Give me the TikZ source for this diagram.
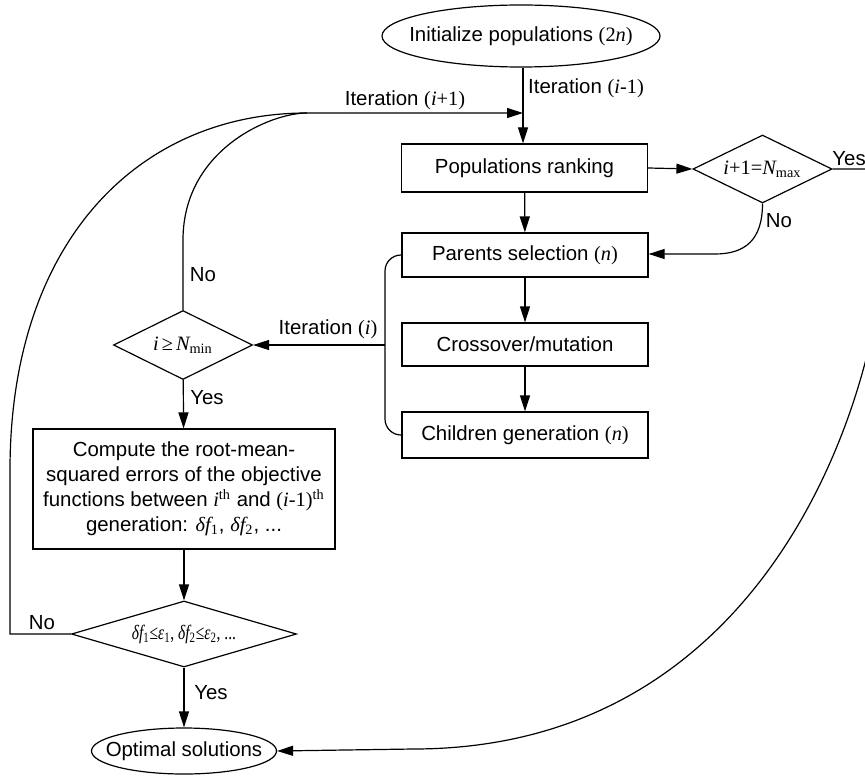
\documentclass[tikz,border=0pt]{standalone}
\usepackage{graphicx}
\usepackage{fontspec}
\setmainfont{Liberation Sans}
\newfontfamily\tms{Liberation Serif}
\usetikzlibrary{shapes.geometric,arrows.meta}
\newcommand\mvar[1]{{\tms\itshape #1}}
\newcommand\mrom[1]{{\tms #1}}
\newcommand\msub[1]{\textsubscript{\tms #1}}
\newcommand\msup[1]{\textsuperscript{\tms #1}}
\newcommand\zw[1]{\makebox[0pt]{#1}}
\begin{document}
\begin{tikzpicture}[x=0.5pt,y=-0.5pt,
  every node/.style={font=\fontsize{10.2}{12.5}\selectfont},
  line/.style={line width=0.6pt},
  arr/.style={line width=0.6pt,-{Triangle[length=8pt,width=5pt]}},
  procbox/.style={draw,line width=0.6pt,rectangle,minimum width=123pt,inner sep=0pt},
  decide/.style={draw,line width=0.6pt,diamond,inner sep=0pt},
  term/.style={draw,line width=0.6pt,ellipse,inner sep=0pt},
  lbl/.style={inner sep=0pt}]
\useasboundingbox (0,0) rectangle (865,775);

\node[term,minimum width=139pt,minimum height=31pt] (init) at (521,36) {\zw{Initialize populations \mrom{(2}\mvar{n}\mrom{)}}};
\node[procbox,minimum height=24pt] (rank) at (524.5,168) {Populations ranking};
\node[decide,minimum width=69.5pt,minimum height=34pt] (dmax) at (762.5,169) {\zw{\mvar{i}\mrom{+1=}\mvar{N}\msub{max}}};
\node[procbox,minimum height=22pt] (par) at (525,255) {Parents selection \mrom{(}\mvar{n}\mrom{)}};
\node[procbox,minimum height=21.5pt] (cross) at (525,344.5) {Crossover/mutation};
\node[procbox,minimum height=23pt] (child) at (525,435) {Children generation \mrom{(}\mvar{n}\mrom{)}};
\node[decide,minimum width=69.5pt,minimum height=34.5pt] (dmin) at (183,345) {\zw{\mvar{i}\kern1.5pt\mrom{≥}\kern1.5pt\mvar{N}\msub{min}}};
\node[procbox,minimum width=151pt,minimum height=60pt,align=center] (rmse) at (184,489) {Compute the root-mean-\\squared errors of the objective\\functions between \mvar{i}\msup{th} and \mrom{(}\mvar{i}\mrom{-1)}\msup{th}\\generation: \mvar{δf}\msub{1}, \mvar{δf}\msub{2}, ...};
\node[decide,minimum width=112.5pt,minimum height=33pt] (dconv) at (184,634) {\zw{\scalebox{0.76}[1]{\mvar{δf}\msub{1}\mrom{≤}\mvar{ε}\msub{1}\mrom{, }\mvar{δf}\msub{2}\mrom{≤}\mvar{ε}\msub{2}\mrom{, ...}}}};
\node[term,minimum width=92.5pt,minimum height=23pt] (opt) at (184,751) {\zw{Optimal solutions}};

\coordinate (j1) at (523,113);
\coordinate (jl) at (307,113);
\coordinate (br) at (385,345);

\draw[line] (init.south -| j1) -- (j1);
\draw[arr] (j1) -- (rank.north -| j1);
\draw[arr] (rank.east) -- (dmax.west);
\draw[arr] (dmax.east) -- (870,169) .. controls (919,169) and (871,749) .. (413,749) -- (opt.east);
\node[lbl,anchor=west] at (832,159) {Yes};

\draw[arr] (dmax.south) .. controls (762.5,240) and (745,254) .. (715,254) -- (par.east |- 0,254);
\node[lbl] at (779,221) {No};

\draw[arr] (rank) -- (par);
\draw[arr] (par) -- (cross);
\draw[arr] (cross) -- (child);

\draw[line,rounded corners=8pt] (par.west) -- (385,255) -- (385,435) -- (child.west);
\draw[arr] (br) -- (dmin.east);
\node[lbl] at (328,329) {Iteration \mrom{(}\mvar{i}\mrom{)}};

\draw[arr] (dmin) -- (rmse);
\node[lbl] at (207,398) {Yes};
\draw[arr] (rmse) -- (dconv);
\draw[arr] (dconv) -- (opt);
\node[lbl] at (211,693) {Yes};

\draw[line] (dmin.north) -- (183,240) .. controls (183,150) and (270,113) .. (jl);
\draw[arr] (dconv.west) -- (10,634) -- (10,470) .. controls (10,240) and (140,113) .. (jl) -- (j1);
\node[lbl] at (203,275) {No};
\node[lbl] at (42,623) {No};
\node[lbl] at (405,100) {Iteration \mrom{(}\mvar{i}\mrom{+1)}};
\node[lbl] at (586,88) {Iteration \mrom{(}\mvar{i}\mrom{-1)}};
\end{tikzpicture}
\end{document}
